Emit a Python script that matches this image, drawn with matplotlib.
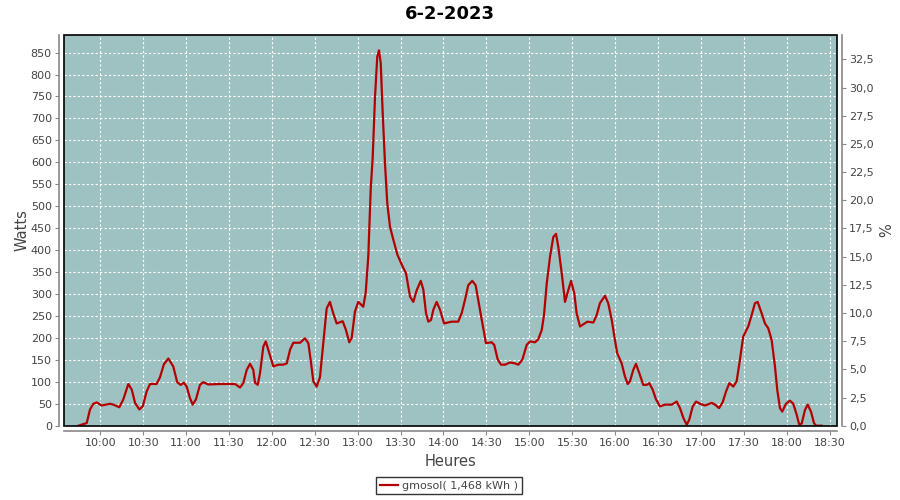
import pandas as pd
import matplotlib
matplotlib.use("Agg")
import matplotlib.pyplot as plt
import matplotlib.dates as mdates
from matplotlib.ticker import MultipleLocator, FuncFormatter
from matplotlib.patches import Rectangle

# Puissance relevée (W) au cours de la journée
heures = [
    "09:44:36", "09:50:30", "09:52:48", "09:55:06", "09:57:30", "10:01:00", "10:06:48", "10:09:06", "10:13:18", "10:16:06",
    "10:19:36", "10:22:00", "10:24:18", "10:27:18", "10:29:42", "10:32:24", "10:34:48", "10:39:24", "10:41:42", "10:44:30",
    "10:47:36", "10:51:00", "10:53:48", "10:56:12", "10:58:30", "11:00:24", "11:02:42", "11:04:36", "11:06:54", "11:09:42",
    "11:12:00", "11:15:30", "11:23:42", "11:30:42", "11:34:12", "11:37:42", "11:40:00", "11:42:24", "11:44:42", "11:47:00",
    "11:48:12", "11:50:06", "11:51:42", "11:54:00", "11:55:42", "11:58:12", "12:01:00", "12:04:30", "12:08:00", "12:10:24",
    "12:12:42", "12:15:00", "12:19:42", "12:23:06", "12:25:30", "12:27:06", "12:29:00", "12:31:18", "12:33:36", "12:35:54",
    "12:38:18", "12:40:36", "12:42:54", "12:45:18", "12:49:30", "12:51:48", "12:54:06", "12:55:48", "12:58:06", "13:00:24",
    "13:03:54", "13:05:36", "13:07:24", "13:09:06", "13:10:30", "13:12:06", "13:13:42", "13:14:54", "13:16:06", "13:17:30",
    "13:19:06", "13:20:42", "13:22:36", "13:24:54", "13:27:42", "13:30:48", "13:33:48", "13:36:36", "13:38:54", "13:41:18",
    "13:44:06", "13:45:54", "13:47:48", "13:49:24", "13:51:18", "13:52:54", "13:55:12", "13:57:36", "14:00:24", "14:05:42",
    "14:10:18", "14:12:42", "14:15:00", "14:17:18", "14:20:06", "14:22:30", "14:24:18", "14:26:42", "14:29:42", "14:33:42",
    "14:35:30", "14:37:54", "14:40:12", "14:43:00", "14:46:30", "14:50:00", "14:52:18", "14:55:06", "14:58:12", "15:00:30",
    "15:04:00", "15:06:18", "15:08:42", "15:10:18", "15:12:12", "15:14:30", "15:16:48", "15:18:42", "15:20:18", "15:22:42",
    "15:25:00", "15:27:18", "15:29:12", "15:31:30", "15:33:06", "15:35:30", "15:37:48", "15:40:36", "15:44:48", "15:47:06",
    "15:49:24", "15:52:54", "15:55:12", "15:57:36", "15:59:54", "16:01:30", "16:04:36", "16:06:54", "16:08:48", "16:10:24",
    "16:12:42", "16:14:36", "16:16:54", "16:19:42", "16:22:06", "16:23:54", "16:26:18", "16:28:36", "16:31:24", "16:34:54",
    "16:39:36", "16:43:06", "16:45:24", "16:47:42", "16:50:06", "16:51:54", "16:54:18", "16:56:36", "16:59:24", "17:02:54",
    "17:07:36", "17:09:54", "17:12:42", "17:15:12", "17:17:36", "17:19:54", "17:22:42", "17:25:00", "17:27:18", "17:29:36",
    "17:33:06", "17:35:30", "17:37:48", "17:39:42", "17:42:30", "17:44:48", "17:47:06", "17:49:30", "17:51:48", "17:53:24",
    "17:55:18", "17:56:54", "17:59:30", "18:02:18", "18:04:36", "18:07:00", "18:08:48", "18:10:30", "18:12:48", "18:14:42",
    "18:17:00", "18:19:06", "18:20:30", "18:24:30",
]
watts = [
    0, 6, 37, 50, 53, 46, 50, 48, 42, 60,
    95, 82, 52, 37, 44, 78, 95, 95, 110, 140,
    153, 135, 99, 93, 98, 89, 63, 48, 60, 93,
    99, 94, 95, 95, 95, 87, 97, 127, 141, 127,
    98, 93, 120, 180, 192, 165, 135, 139, 139, 142,
    173, 189, 189, 199, 188, 150, 101, 89, 110, 188,
    267, 282, 256, 233, 238, 218, 190, 200, 260, 282,
    271, 303, 385, 538, 612, 748, 841, 855, 826, 711,
    597, 506, 453, 424, 390, 367, 347, 294, 282, 309,
    330, 310, 256, 237, 241, 264, 282, 264, 233, 237,
    237, 256, 286, 320, 330, 320, 286, 242, 188, 190,
    184, 151, 139, 139, 144, 142, 139, 150, 184, 192,
    190, 197, 218, 252, 324, 385, 430, 437, 407, 347,
    282, 309, 330, 301, 256, 226, 231, 237, 235, 252,
    279, 296, 279, 242, 195, 165, 142, 112, 95, 101,
    127, 141, 120, 93, 93, 97, 82, 60, 44, 48,
    48, 55, 40, 18, 2, 14, 44, 55, 50, 46,
    52, 48, 40, 53, 78, 97, 89, 101, 150, 203,
    226, 252, 279, 282, 256, 233, 222, 195, 135, 82,
    40, 32, 50, 57, 50, 25, 2, 5, 36, 48,
    32, 6, 0, 0,
]
jour = "2023-02-06"
titre = "6-2-2023"
legende = "gmosol( 1,468 kWh )"
debut, fin = "09:34:48", "18:35:00"

GRIS = "#444444"
FOND = "#9EC2C2"
ROUGE = "#B40000"

t = pd.to_datetime([jour + " " + h for h in heures])
df = pd.DataFrame({"W": watts}, index=t)

fig = plt.figure(figsize=(9, 5), dpi=100)
ax = fig.add_axes([0.0714, 0.1486, 0.8583, 0.7814])
ax.set_facecolor(FOND)

ax.plot(df.index, df["W"], color=ROUGE, lw=1.6, label=legende, zorder=3)

ax.set_xlim(pd.Timestamp(jour + " " + debut), pd.Timestamp(jour + " " + fin))
ax.set_ylim(0, 890)
ax.yaxis.set_major_locator(MultipleLocator(50))
ax.xaxis.set_major_locator(mdates.MinuteLocator(byminute=[0, 30]))
ax.xaxis.set_major_formatter(mdates.DateFormatter("%H:%M"))
ax.grid(True, color="white", ls=(0, (2, 2)), lw=0.8)

ax2 = ax.twinx()
ax2.set_ylim(0, 34.66)
ax2.yaxis.set_major_locator(MultipleLocator(2.5))
ax2.yaxis.set_major_formatter(FuncFormatter(lambda v, p: ("%.1f" % v).replace(".", ",")))

for a in (ax, ax2):
    for s in a.spines.values():
        s.set_visible(False)
    a.tick_params(colors=GRIS, labelsize=8, length=3, width=0.8, color="#888888", pad=2)

# axes en gris, decalees du cadre
ax.spines["left"].set_visible(True)
ax.spines["bottom"].set_visible(True)
ax2.spines["right"].set_visible(True)
for s in (ax.spines["left"], ax.spines["bottom"], ax2.spines["right"]):
    s.set_position(("outward", 4))
    s.set_color("#888888")
    s.set_linewidth(1.2)

# cadre noir du graphe
ax2.add_patch(Rectangle((0, 0), 1, 1, transform=ax.transAxes, fill=False,
                        ec="black", lw=1.2, zorder=10, clip_on=False))

ax.set_ylabel("Watts", color=GRIS, fontsize=10.5, labelpad=1)
ax2.set_ylabel("%", color=GRIS, fontsize=10.5, labelpad=4)
ax.set_xlabel("Heures", color=GRIS, fontsize=10.5, labelpad=4)
fig.suptitle(titre, fontsize=13, fontweight="bold", y=0.99)

leg = fig.legend(loc="lower center", bbox_to_anchor=(0.499, 0.0), fontsize=8,
                 frameon=True, fancybox=False, handlelength=1.6, handletextpad=0.4,
                 borderpad=0.35, labelcolor=GRIS)
leg.get_frame().set_edgecolor("black")
leg.get_frame().set_linewidth(1.0)

fig.savefig("out.png", dpi=100, facecolor="white")
